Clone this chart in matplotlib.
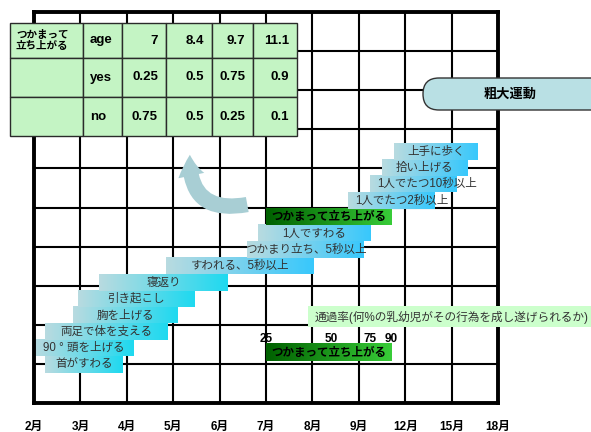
import numpy as np
import matplotlib
matplotlib.use("Agg")
from matplotlib import pyplot as plt
from matplotlib.colors import LinearSegmentedColormap
from matplotlib.patches import Rectangle, FancyBboxPatch, FancyArrowPatch

plt.rcParams['font.family'] = ['Liberation Sans', 'Noto Sans CJK JP', 'DejaVu Sans']

# month scale (non linear)
month_ticks = [2, 3, 4, 5, 6, 7, 8, 9, 12, 15, 18]
month_labels = [f"{m}月" for m in month_ticks]

# milestones: 25% age -> 90% age (months), bottom to top
milestones = ["首がすわる", "90 ° 頭を上げる", "両足で体を支える", "胸を上げる", "引き起こし",
              "寝返り", "すわれる、5秒以上", "つかまり立ち、5秒以上", "1人ですわる",
              "つかまって立ち上がる", "1人でたつ2秒以上", "1人でたつ10秒以上",
              "拾い上げる", "上手に歩く"]
age_start = [2.23, 2.0, 2.23, 2.83, 2.94, 3.41, 4.85, 6.6, 6.83, 7.0, 8.76, 9.71, 10.5, 11.3]
age_end = [3.91, 4.15, 4.87, 5.09, 5.46, 6.17, 8.02, 9.36, 9.79, 11.1, 13.9, 15.3, 16.0, 16.7]

# table for つかまって立ち上がる
tbl_title = "つかまって\n立ち上がる"
tbl_age = [7, 8.4, 9.7, 11.1]
tbl_yes = [0.25, 0.5, 0.75, 0.9]
tbl_no = [0.75, 0.5, 0.25, 0.1]
pass_rates = [25, 50, 75, 90]

highlight = "つかまって立ち上がる"


def mpos(m):
    return np.interp(m, month_ticks, np.arange(len(month_ticks)))


fig = plt.figure(figsize=(5.91, 4.32), dpi=100)
ax = fig.add_axes([34/591, 29/432, 464/591, 391/432])
ax.set_xlim(0, 10)
ax.set_ylim(0, 10)
ax.set_xticks(range(len(month_ticks)))
ax.set_xticklabels(month_labels, fontsize=8.5, fontweight='bold')
ax.set_yticks(range(11))
ax.set_yticklabels([])
ax.tick_params(length=0, pad=13)
ax.grid(True, color='black', lw=1.5)
ax.set_axisbelow(True)
for s in ax.spines.values():
    s.set_linewidth(2.8)

blue_lo = LinearSegmentedColormap.from_list('blo', ['#b8dbe0', '#1fd9f0'])
blue_hi = LinearSegmentedColormap.from_list('bhi', ['#b8dbe0', '#38c8fc'])
green = LinearSegmentedColormap.from_list('grn', ['#006000', '#38cc38'])
grad = np.linspace(0, 1, 100).reshape(1, -1)

bar_h = 0.41
left_text = ["1人でたつ2秒以上", "1人でたつ10秒以上"]
for i, name in enumerate(milestones):
    x0, x1 = mpos(age_start[i]), mpos(age_end[i])
    yc = 0.985 + 0.419 * i
    if name == highlight:
        cm = green
    elif i < 6:
        cm = blue_lo
    else:
        cm = blue_hi
    ax.imshow(grad, extent=[x0, x1, yc - bar_h/2, yc + bar_h/2], cmap=cm,
              aspect='auto', zorder=2, interpolation='bilinear')
    if name == highlight:
        ax.text((x0 + x1)/2, yc, name, ha='center', va='center', fontsize=8.3,
                fontweight='bold', color='black', zorder=3)
    elif name in left_text:
        ax.text(x0 + 0.17, yc, name, ha='left', va='center', fontsize=8.3,
                color='#333333', zorder=3)
    else:
        ax.text((x0 + x1)/2, yc, name, ha='center', va='center', fontsize=8.3,
                color='#333333', zorder=3)

# legend bar with pass rates
x0, x1 = mpos(tbl_age[0]), mpos(tbl_age[-1])
ax.imshow(grad, extent=[x0, x1, 1.29 - 0.22, 1.29 + 0.22], cmap=green,
          aspect='auto', zorder=2, interpolation='bilinear')
ax.text((x0 + x1)/2, 1.29, highlight, ha='center', va='center', fontsize=8.3,
        fontweight='bold', color='black', zorder=3)
for a, p in zip(tbl_age, pass_rates):
    ax.text(mpos(a), 1.63, str(p), ha='center', va='center', fontsize=8.5,
            fontweight='bold', zorder=3)
ax.set_xlim(0, 10)
ax.set_ylim(0, 10)

# overlay in pixel coordinates
ov = fig.add_axes([0, 0, 1, 1])
ov.set_xlim(0, 591)
ov.set_ylim(432, 0)
ov.axis('off')

col_x = [10, 83, 122, 166, 212, 253, 297]
row_y = [23, 58, 97, 136]
for r in range(3):
    for c in range(6):
        ov.add_patch(Rectangle((col_x[c], row_y[r]), col_x[c+1] - col_x[c],
                               row_y[r+1] - row_y[r], facecolor='#c4f4c4',
                               edgecolor='#2a2a2a', lw=1))
ov.text(16, (row_y[0] + row_y[1])/2, tbl_title, ha='left', va='center',
        fontsize=7.6, fontweight='bold', linespacing=1.2)
for r, (lab, vals) in enumerate(zip(["age", "yes", "no"], [tbl_age, tbl_yes, tbl_no])):
    yc = (row_y[r] + row_y[r+1])/2
    ov.text(90, yc, lab, ha='left', va='center', fontsize=9.5, fontweight='bold')
    for c, v in enumerate(vals):
        ov.text(col_x[c+3] - 8, yc, f"{v:g}", ha='right', va='center',
                fontsize=9.5, fontweight='bold')

# rounded label
ov.add_patch(FancyBboxPatch((423, 78), 190, 32, boxstyle="round,pad=0,rounding_size=16",
                            facecolor='#b9e0e4', edgecolor='#333333', lw=1, clip_on=False))
ov.text(510, 95, "粗大運動", ha='center', va='center', fontsize=9.5, fontweight='bold')

# legend text box
ov.add_patch(Rectangle((308, 306), 283, 21, facecolor='#ccffcc', edgecolor='none'))
ov.text(315, 317, "通過率(何%の乳幼児がその行為を成し遂げられるか)", ha='left', va='center',
        fontsize=8.4, color='#333333')

# curved arrow
ov.add_patch(FancyArrowPatch((250, 204), (190, 152), connectionstyle="arc3,rad=-0.65",
                             arrowstyle="simple,head_width=19,head_length=15,tail_width=11",
                             facecolor='#a8ced4', edgecolor='none'))

fig.savefig("out.png", dpi=100)
